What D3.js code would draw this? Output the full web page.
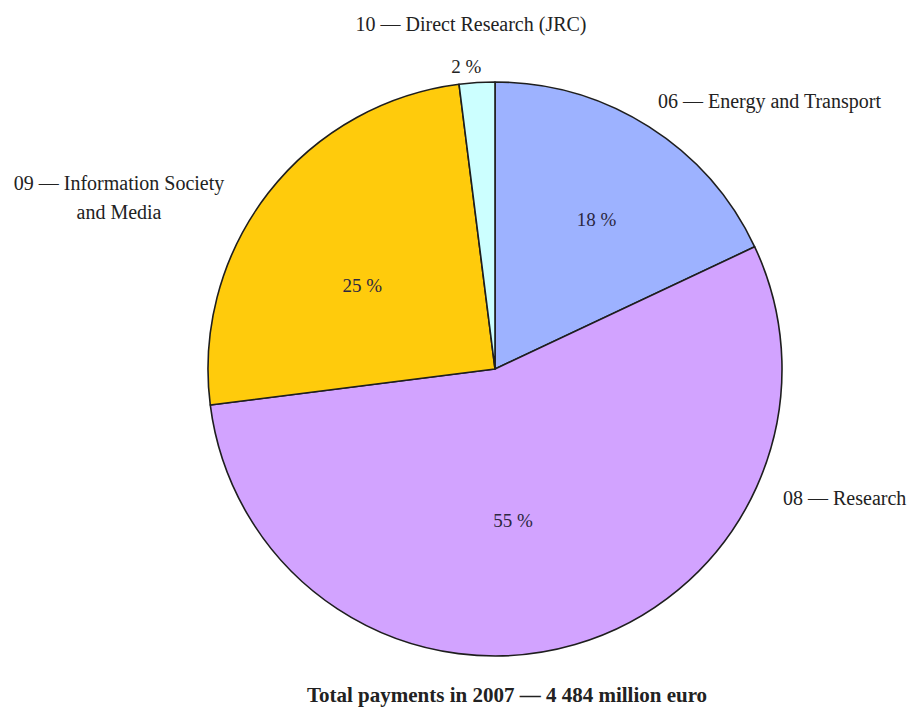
<!DOCTYPE html>
<html>
<head>
<meta charset="utf-8">
<script src="https://cdn.jsdelivr.net/npm/d3@7"></script>
<style>
  body { margin: 0; background: #fff; }
  svg { display: block; }
  text { font-family: "Liberation Serif", "DejaVu Serif", serif; fill: #222; }
</style>
</head>
<body>
<svg id="chart" width="910" height="711"></svg>
<script>
// Payments by policy area, 2007 (share of total, %)
const categories = ["06 — Energy and Transport", "08 — Research", "09 — Information Society and Media", "10 — Direct Research (JRC)"];
const shares = [18, 55, 25, 2];
const valueLabels = ["18 %", "55 %", "25 %", "2 %"];
const colors = ["#9db2ff", "#d2a3ff", "#ffcb0c", "#ccffff"];
const title = "Total payments in 2007 — 4 484 million euro";

const svg = d3.select("#chart");
const cx = 495, cy = 369, r = 287;

const data = categories.map((c, i) => ({ name: c, value: shares[i], label: valueLabels[i], color: colors[i] }));

const pie = d3.pie().value(d => d.value).sort(null);
const arcs = pie(data);
const arc = d3.arc().innerRadius(0).outerRadius(r);

const g = svg.append("g").attr("transform", `translate(${cx},${cy})`);

g.selectAll("path")
  .data(arcs)
  .join("path")
  .attr("d", arc)
  .attr("fill", d => d.data.color)
  .attr("stroke", "#1e1e1e")
  .attr("stroke-width", 1.6)
  .attr("stroke-linejoin", "round");

// Percentage labels: inside the larger slices, outside for the small JRC slice
const labelRadius = [0.55, 0.55, 0.55, 1.1];
const labelNudge = [[17, -16], [-26, 0], [-8, 14], [-9, 13]];
g.selectAll("text.pct")
  .data(arcs)
  .join("text")
  .attr("class", "pct")
  .attr("text-anchor", "middle")
  .attr("font-size", 19)
  .style("fill", (d, i) => i === 3 ? "#222" : "#2b2740")
  .attr("transform", (d, i) => {
    const a = (d.startAngle + d.endAngle) / 2;
    const rr = r * labelRadius[i];
    return `translate(${Math.sin(a) * rr + labelNudge[i][0]},${-Math.cos(a) * rr + 6 + labelNudge[i][1]})`;
  })
  .text(d => d.data.label);

// Category labels
const fs = 20;
svg.append("text").attr("x", 471).attr("y", 31).attr("text-anchor", "middle").attr("font-size", fs).text(categories[3]);
svg.append("text").attr("x", 658).attr("y", 108).attr("font-size", fs).text(categories[0]);
svg.append("text").attr("x", 783).attr("y", 505).attr("font-size", fs).text(categories[1]);
const info = svg.append("text").attr("text-anchor", "middle").attr("font-size", fs);
info.append("tspan").attr("x", 119).attr("y", 190).text("09 — Information Society");
info.append("tspan").attr("x", 119).attr("y", 219).text("and Media");

svg.append("text")
  .attr("x", 507).attr("y", 702)
  .attr("text-anchor", "middle")
  .attr("font-size", 21)
  .attr("font-weight", "bold")
  .text(title);
</script>
</body>
</html>
